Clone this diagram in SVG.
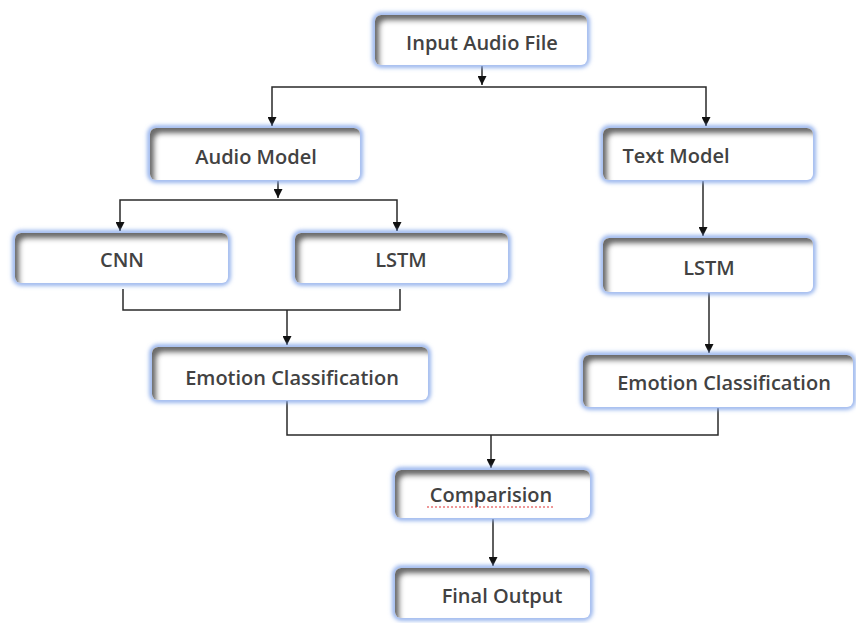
<svg xmlns="http://www.w3.org/2000/svg" width="856" height="623" viewBox="0 0 856 623">
<defs>
<style>
.box{fill:#ffffff;filter:url(#inner)}
.glow{fill:#ffffff;stroke:#86a8ea;stroke-width:5;filter:url(#glow)}
.lbl{font-family:"Open Sans","Noto Sans",sans-serif;font-size:20px;font-weight:600;fill:#424242;text-anchor:middle;dominant-baseline:central}
.ln{fill:none;stroke:#2a2a2a;stroke-width:1.5}
</style>
<filter id="glow" x="-10%" y="-30%" width="120%" height="160%">
<feGaussianBlur stdDeviation="2.2"/>
</filter>
<filter id="inner" x="-5%" y="-10%" width="110%" height="120%">
<feOffset in="SourceAlpha" dx="5" dy="6"/>
<feGaussianBlur stdDeviation="2.5" result="ob"/>
<feComposite operator="out" in="SourceAlpha" in2="ob" result="inv"/>
<feFlood flood-color="#444444" flood-opacity="0.9"/>
<feComposite operator="in" in2="inv" result="sh"/>
<feComposite operator="over" in="sh" in2="SourceGraphic"/>
</filter>
<marker id="arr" viewBox="0 0 10 10" refX="10" refY="5" markerWidth="9" markerHeight="9" markerUnits="userSpaceOnUse" orient="auto">
<path d="M0,0 L10,5 L0,10 z" fill="#111"/>
</marker>
</defs>
<rect width="856" height="623" fill="#ffffff"/>
<g id="connectors">
<path class="ln" d="M482,66 V85" marker-end="url(#arr)"/>
<path class="ln" d="M272,126 V87 H706 V126"/>
<path class="ln" d="M272,118 V126" marker-end="url(#arr)"/>
<path class="ln" d="M706,118 V126" marker-end="url(#arr)"/>
<path class="ln" d="M278,181 V198" marker-end="url(#arr)"/>
<path class="ln" d="M120,231 V200 H397 V231"/>
<path class="ln" d="M120,222 V231" marker-end="url(#arr)"/>
<path class="ln" d="M397,222 V231" marker-end="url(#arr)"/>
<path class="ln" d="M703,181 V236" marker-end="url(#arr)"/>
<path class="ln" d="M123,289 V310 H400 V289"/>
<path class="ln" d="M287,310 V345" marker-end="url(#arr)"/>
<path class="ln" d="M709,293 V353" marker-end="url(#arr)"/>
<path class="ln" d="M287,401 V435 H718 V408"/>
<path class="ln" d="M491,435 V468" marker-end="url(#arr)"/>
<path class="ln" d="M493,519 V566" marker-end="url(#arr)"/>
</g>
<g id="input">
<rect class="glow" x="375" y="15" width="212" height="50" rx="6"/>
<rect class="box" x="375" y="15" width="212" height="50" rx="6"/>
<text class="lbl" x="482" y="42">Input Audio File</text>
</g>
<g id="audio-model">
<rect class="glow" x="150" y="128" width="210" height="52" rx="6"/>
<rect class="box" x="150" y="128" width="210" height="52" rx="6"/>
<text class="lbl" x="256" y="156">Audio Model</text>
</g>
<g id="text-model">
<rect class="glow" x="603" y="128" width="210" height="52" rx="6"/>
<rect class="box" x="603" y="128" width="210" height="52" rx="6"/>
<text class="lbl" x="676" y="155">Text Model</text>
</g>
<g id="cnn">
<rect class="glow" x="15" y="233" width="213" height="50" rx="6"/>
<rect class="box" x="15" y="233" width="213" height="50" rx="6"/>
<text class="lbl" x="122" y="259">CNN</text>
</g>
<g id="lstm-audio">
<rect class="glow" x="295" y="233" width="213" height="50" rx="6"/>
<rect class="box" x="295" y="233" width="213" height="50" rx="6"/>
<text class="lbl" x="401" y="259">LSTM</text>
</g>
<g id="lstm-text">
<rect class="glow" x="603" y="238" width="210" height="54" rx="6"/>
<rect class="box" x="603" y="238" width="210" height="54" rx="6"/>
<text class="lbl" x="709" y="267">LSTM</text>
</g>
<g id="emotion-audio">
<rect class="glow" x="152" y="347" width="276" height="53" rx="6"/>
<rect class="box" x="152" y="347" width="276" height="53" rx="6"/>
<text class="lbl" x="292" y="377">Emotion Classification</text>
</g>
<g id="emotion-text">
<rect class="glow" x="583" y="355" width="270" height="52" rx="6"/>
<rect class="box" x="583" y="355" width="270" height="52" rx="6"/>
<text class="lbl" x="724" y="382">Emotion Classification</text>
</g>
<g id="comparision">
<rect class="glow" x="395" y="470" width="195" height="48" rx="6"/>
<rect class="box" x="395" y="470" width="195" height="48" rx="6"/>
<text class="lbl" x="491" y="494">Comparision</text>
<path d="M427,507 H555" stroke="#e03030" stroke-width="1.2" stroke-dasharray="2,2" fill="none"/>
</g>
<g id="final-output">
<rect class="glow" x="395" y="568" width="195" height="50" rx="6"/>
<rect class="box" x="395" y="568" width="195" height="50" rx="6"/>
<text class="lbl" x="502" y="595">Final Output</text>
</g>
</svg>
